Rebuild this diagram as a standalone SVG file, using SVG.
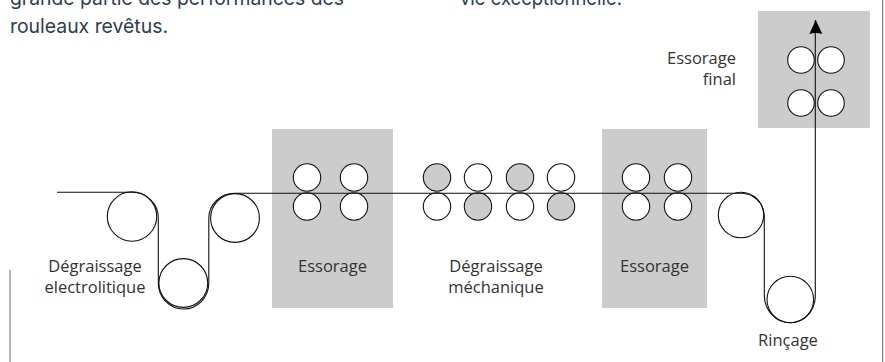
<svg xmlns="http://www.w3.org/2000/svg" width="885" height="362" viewBox="0 0 885 362">
<style>
.body{font-family:"Inter","Noto Sans",sans-serif;font-size:19.4px;fill:#2c3e50}
.lab{font-family:"Open Sans","Noto Sans",sans-serif;font-size:16.5px;fill:#333}
.box{fill:#ccc}
.r{fill:#fff;stroke:#111;stroke-width:1.1}
.g{fill:#ccc;stroke:#111;stroke-width:1.1}
.web{fill:none;stroke:#111;stroke-width:1.1}
.rule{stroke:#666;stroke-width:1;fill:none}
</style>
<defs><marker id="a" markerUnits="userSpaceOnUse" markerWidth="13" markerHeight="15" refX="6" refY="0" orient="0" overflow="visible"><path d="M6.500 0L13 14Q6.500 12 0 14Z" fill="#000"/></marker></defs>
<rect width="885" height="362" fill="#fff"/>
<text class="body" x="10" y="5" textLength="334" lengthAdjust="spacingAndGlyphs">grande partie des performances des</text>
<text class="body" x="10" y="33" textLength="158" lengthAdjust="spacingAndGlyphs">rouleaux revêtus.</text>
<text class="body" x="460" y="5" textLength="162" lengthAdjust="spacingAndGlyphs">vie exceptionnelle.</text>
<path class="rule" d="M10 270V362M882.700 0V362"/>
<g id="essorage-1"><rect class="box" x="272" y="129" width="121" height="179"/><circle class="r" cx="307" cy="177.500" r="13.700"/><circle class="r" cx="354" cy="177.500" r="13.700"/><circle class="r" cx="307" cy="206.500" r="13.700"/><circle class="r" cx="354" cy="206.500" r="13.700"/><text class="lab" x="332.500" y="271.500" text-anchor="middle">Essorage</text></g>
<g id="degraissage-mecanique"><circle class="g" cx="437" cy="177.500" r="13.700"/><circle class="r" cx="478" cy="177.500" r="13.700"/><circle class="g" cx="520" cy="177.500" r="13.700"/><circle class="r" cx="561" cy="177.500" r="13.700"/><circle class="r" cx="437" cy="206.500" r="13.700"/><circle class="g" cx="478" cy="206.500" r="13.700"/><circle class="r" cx="520" cy="206.500" r="13.700"/><circle class="g" cx="561" cy="206.500" r="13.700"/><text class="lab" x="496" y="271.500" text-anchor="middle">Dégraissage</text><text class="lab" x="496" y="292.500" text-anchor="middle">méchanique</text></g>
<g id="essorage-2"><rect class="box" x="602" y="129" width="105" height="179"/><circle class="r" cx="636" cy="177.500" r="13.700"/><circle class="r" cx="678" cy="177.500" r="13.700"/><circle class="r" cx="636" cy="206.500" r="13.700"/><circle class="r" cx="678" cy="206.500" r="13.700"/><text class="lab" x="654.500" y="271.500" text-anchor="middle">Essorage</text></g>
<g id="essorage-final"><rect class="box" x="758" y="11" width="112" height="117"/><circle class="r" cx="801" cy="60" r="13.300"/><circle class="r" cx="831" cy="60" r="13.300"/><circle class="r" cx="801" cy="103" r="13.300"/><circle class="r" cx="831" cy="103" r="13.300"/><text class="lab" x="736" y="64" text-anchor="end">Essorage</text><text class="lab" x="736" y="85" text-anchor="end">final</text></g>
<g id="degraissage-electrolitique"><circle class="r" cx="132" cy="216.500" r="24.700"/><circle class="r" cx="183.300" cy="283" r="24.400"/><circle class="r" cx="235" cy="218" r="24.400"/><text class="lab" x="95" y="271.500" text-anchor="middle">Dégraissage</text><text class="lab" x="95" y="292.500" text-anchor="middle">electrolitique</text></g>
<g id="rincage"><circle class="r" cx="741" cy="215" r="22.700"/><circle class="r" cx="790.300" cy="299.500" r="23.300"/><text class="lab" x="788" y="346" text-anchor="middle">Rinçage</text></g>
<g id="connectors"><path class="web" marker-end="url(#a)" d="M57 192.300H132A26.300 25.500 0 0 1 158.300 218V283A25 26 0 0 0 183.300 309A25 26 0 0 0 208.800 283V218A25.800 25 0 0 1 234.600 193.300H741A23.300 23 0 0 1 764.300 216V295A26 27.500 0 0 0 790.300 322.800A25 27 0 0 0 815.300 297V20"/></g>
</svg>
